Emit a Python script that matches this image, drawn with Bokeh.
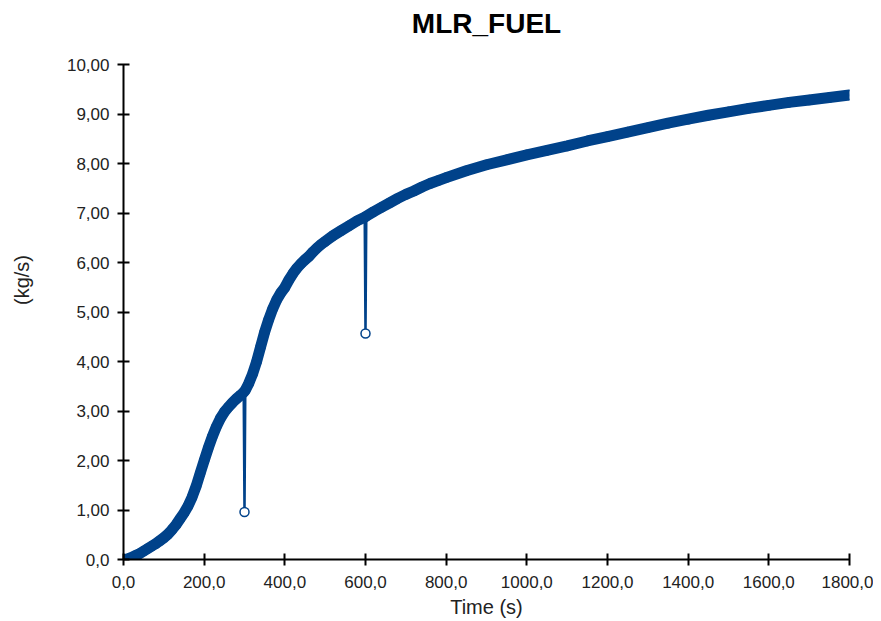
from bokeh.plotting import figure
from bokeh.models import FixedTicker, ColumnDataSource, Label
from bokeh.embed import file_html
from bokeh.resources import INLINE

# data
time_s = [0, 10, 20, 30, 40, 50, 60, 70, 80, 90, 100, 110, 120, 130, 140, 150,
          160, 170, 180, 190, 200, 210, 220, 230, 240, 250, 260, 270, 280, 290,
          298, 300, 302, 310, 320, 330, 340, 350, 360, 370, 380, 390, 400, 410,
          420, 430, 440, 450, 460, 470, 480, 490, 500, 520, 540, 560, 580, 598,
          600, 602, 620, 640, 660, 680, 700, 720, 740, 760, 780, 800, 850, 900,
          950, 1000, 1050, 1100, 1150, 1200, 1250, 1300, 1350, 1400, 1450, 1500,
          1550, 1600, 1650, 1700, 1750, 1800]
mlr_fuel = [0.0, 0.01, 0.04, 0.08, 0.12, 0.17, 0.22, 0.27, 0.32, 0.38, 0.44,
            0.51, 0.6, 0.7, 0.82, 0.94, 1.08, 1.26, 1.48, 1.74, 2.0, 2.25, 2.48,
            2.68, 2.85, 2.98, 3.08, 3.17, 3.25, 3.32, 3.38, 0.96, 3.42, 3.55,
            3.75, 4.0, 4.3, 4.6, 4.85, 5.07, 5.25, 5.39, 5.5, 5.65, 5.78, 5.89,
            5.98, 6.06, 6.13, 6.22, 6.3, 6.37, 6.43, 6.55, 6.65, 6.75, 6.85,
            6.92, 4.57, 6.94, 7.03, 7.12, 7.21, 7.3, 7.38, 7.45, 7.53, 7.6, 7.66,
            7.72, 7.86, 7.98, 8.08, 8.18, 8.27, 8.36, 8.46, 8.55, 8.64, 8.73,
            8.82, 8.9, 8.98, 9.05, 9.12, 9.18, 9.24, 9.29, 9.34, 9.39]

x_ticks = [0, 200, 400, 600, 800, 1000, 1200, 1400, 1600, 1800]
x_tick_labels = ["0,0", "200,0", "400,0", "600,0", "800,0", "1000,0", "1200,0",
                 "1400,0", "1600,0", "1800,0"]
y_ticks = [0, 1, 2, 3, 4, 5, 6, 7, 8, 9, 10]
y_tick_labels = ["0,0", "1,00", "2,00", "3,00", "4,00", "5,00", "6,00", "7,00",
                 "8,00", "9,00", "10,00"]
title_text = "MLR_FUEL"

COLOR = "#00428A"
FONT = "Liberation Sans"

# points that are isolated drops (sharply below both neighbours) are kept off the band
band_t, band_v = [], []
for i, (t, v) in enumerate(zip(time_s, mlr_fuel)):
    prev_v = mlr_fuel[i - 1] if i > 0 else v
    next_v = mlr_fuel[i + 1] if i < len(mlr_fuel) - 1 else v
    if prev_v - v > 1 and next_v - v > 1:
        continue
    band_t.append(t)
    band_v.append(v)

# y range extends above 10 to leave room for the title inside the frame;
# the y axis itself is bounded to 0..10
p = figure(width=873, height=620, x_range=(0, 1800), y_range=(0, 11.3),
           output_backend="svg", toolbar_location=None,
           min_border_left=123, min_border_right=24, min_border_top=0,
           min_border_bottom=55)
p.title.visible = False

src = ColumnDataSource(dict(t=time_s, v=mlr_fuel))
p.line("t", "v", source=src, line_color=COLOR, line_width=2.5)
p.scatter("t", "v", source=src, marker="circle", size=9, line_color=COLOR,
          fill_color="white", line_width=1.5)
p.line(band_t, band_v, line_color=COLOR, line_width=11, line_cap="round",
       line_join="round")

# title drawn as a label centred over the plot area
p.add_layout(Label(x=900, y=10.83, text=title_text, text_align="center",
                   text_baseline="alphabetic", text_font=FONT,
                   text_font_size="28px", text_font_style="bold",
                   text_color="black"))

p.xgrid.visible = False
p.ygrid.visible = False
p.outline_line_color = None

for ax in (p.xaxis[0], p.yaxis[0]):
    ax.axis_line_width = 2
    ax.axis_line_color = "black"
    ax.major_tick_line_width = 2
    ax.major_tick_line_color = "black"
    ax.major_tick_in = 6
    ax.major_tick_out = 6
    ax.minor_tick_line_color = None
    ax.major_label_text_font = FONT
    ax.major_label_text_font_size = "17px"
    ax.major_label_text_color = "#222222"
    ax.axis_label_text_font = FONT
    ax.axis_label_text_font_size = "20px"
    ax.axis_label_text_font_style = "normal"
    ax.axis_label_text_color = "#222222"

p.yaxis.bounds = (0, 10)
p.xaxis.ticker = FixedTicker(ticks=x_ticks)
p.xaxis.major_label_overrides = dict(zip(x_ticks, x_tick_labels))
p.yaxis.ticker = FixedTicker(ticks=y_ticks)
p.yaxis.major_label_overrides = dict(zip(y_ticks, y_tick_labels))

p.xaxis.axis_label = "Time (s)"
p.yaxis.axis_label = "(kg/s)"
p.xaxis.major_label_standoff = 10
p.yaxis.major_label_standoff = 8
p.xaxis.axis_label_standoff = 5
p.yaxis.axis_label_standoff = 31

open("out.html", "w").write(file_html(p, INLINE))
